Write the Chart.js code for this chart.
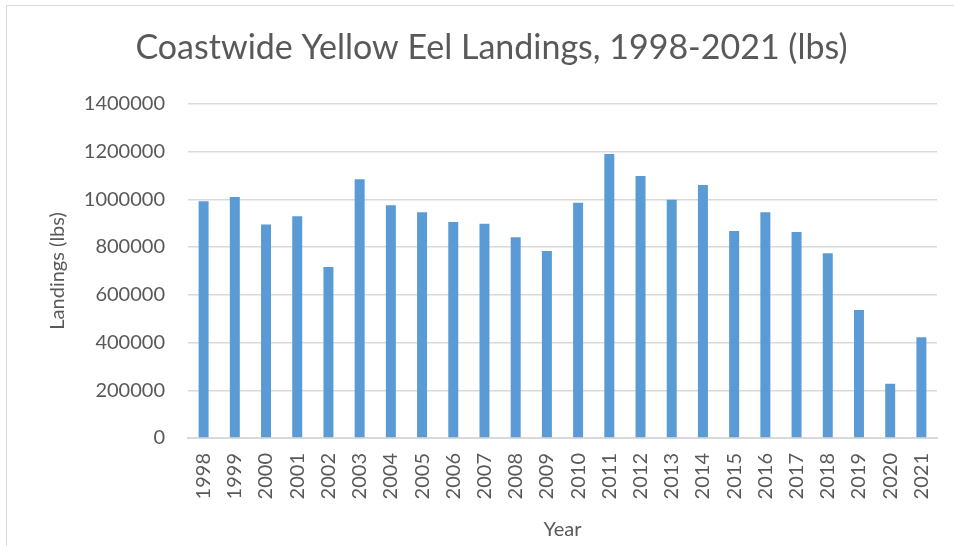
<!DOCTYPE html>
<html>
<head>
<meta charset="utf-8">
<script src="https://cdn.jsdelivr.net/npm/chart.js@4/dist/chart.umd.min.js"></script>
<style>
  html, body { margin: 0; padding: 0; background: #fff; }
  #frame { position: absolute; left: 6px; top: 5px; width: 960px; height: 560px; border: 1px solid #d9d9d9; box-sizing: border-box; }
  #wrap { position: absolute; left: 0; top: 0; width: 954px; height: 546px; }
</style>
</head>
<body>
<div id="frame"></div>
<div id="wrap"><canvas id="chart" width="954" height="546"></canvas></div>
<script>
  const years = ['1998', '1999', '2000', '2001', '2002', '2003', '2004', '2005', '2006', '2007', '2008', '2009',
    '2010', '2011', '2012', '2013', '2014', '2015', '2016', '2017', '2018', '2019', '2020', '2021'];
  const landings = [992000, 1010000, 894000, 929000, 716000, 1084000, 975000, 946000, 905000, 897000, 841000, 783000,
    986000, 1190000, 1098000, 998000, 1060000, 867000, 946000, 863000, 774000, 536000, 227000, 422000];
  const yMax = 1400000;
  const yStep = 200000;

  const fontFamily = 'Lato, "Open Sans", sans-serif';
  const textColor = '#595959';

  new Chart(document.getElementById('chart'), {
    type: 'bar',
    data: {
      labels: years,
      datasets: [{
        label: 'Landings (lbs)',
        data: landings,
        backgroundColor: '#5b9bd5',
        barPercentage: 0.64,
        categoryPercentage: 0.5
      }]
    },
    options: {
      responsive: false,
      animation: false,
      layout: { padding: { left: 46, right: 17, top: 22, bottom: 4 } },
      plugins: {
        legend: { display: false },
        tooltip: { enabled: false },
        title: {
          display: true,
          text: 'Coastwide Yellow Eel Landings, 1998-2021 (lbs)',
          color: textColor,
          font: { family: fontFamily, size: 34, weight: 'normal' },
          padding: { top: 6, bottom: 35 }
        }
      },
      scales: {
        x: {
          grid: { display: false, drawTicks: false },
          border: { display: true, color: '#d9d9d9', width: 2 },
          ticks: {
            color: textColor,
            font: { family: fontFamily, size: 20 },
            minRotation: 90,
            maxRotation: 90,
            padding: 15
          },
          title: {
            display: true,
            text: 'Year',
            color: textColor,
            font: { family: fontFamily, size: 20 },
            padding: { top: 6, bottom: 0 }
          },
          afterFit(scale) {
            scale.height = 104;
            scale.paddingLeft = 0;
            scale.paddingRight = 0;
          }
        },
        y: {
          min: 0,
          max: yMax,
          grid: { color: '#d9d9d9', lineWidth: 1.5, drawTicks: false },
          border: { display: false },
          ticks: {
            stepSize: yStep,
            color: textColor,
            font: { family: fontFamily, size: 20 },
            padding: 23,
            callback: (v) => String(v)
          },
          title: {
            display: true,
            text: 'Landings (lbs)',
            color: textColor,
            font: { family: fontFamily, size: 20 },
            padding: { top: 0, bottom: 0 }
          },
          afterFit(scale) { scale.width = 142; }
        }
      }
    }
  });
</script>
</body>
</html>
